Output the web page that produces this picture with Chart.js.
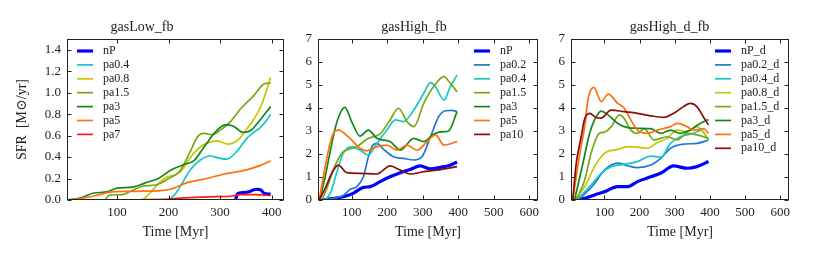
<!DOCTYPE html>
<html>
<head>
<meta charset="utf-8">
<script src="https://cdn.jsdelivr.net/npm/chart.js@4/dist/chart.umd.min.js"></script>
<style>
  body { margin: 0; background: #fff; }
  .wrap { position: relative; width: 831px; height: 260px; }
  canvas { position: absolute; top: 0; }
</style>
</head>
<body>
<div class="wrap">
  <canvas id="c1" width="300" height="260" style="left:0px"></canvas>
  <canvas id="c2" width="260" height="260" style="left:290px"></canvas>
  <canvas id="c3" width="281" height="260" style="left:550px"></canvas>
</div>
<script>
// tick values
const xTicksLow = [100, 200, 300, 400];
const xTicksHigh = [100, 200, 300, 400, 500, 600];
const yTicksLow = [0, 0.2, 0.4, 0.6, 0.8, 1.0, 1.2, 1.4];
const yTicksHigh = [0, 1, 2, 3, 4, 5, 6, 7];

// gasLow_fb  [time Myr, SFR]
const lowNP = [[330,0],[334,0.06],[345,0.07],[358,0.08],[365,0.095],[372,0.1],[380,0.09],[386,0.06],[398,0.055]];
const lowPa04 = [[200,0],[212,0.05],[222,0.12],[242,0.28],[261,0.37],[280,0.41],[298,0.39],[313,0.38],[332,0.45],[351,0.57],[365,0.63],[377,0.67],[390,0.74],[398,0.8]];
const lowPa08 = [[150,0],[165,0.07],[180,0.15],[195,0.21],[210,0.23],[225,0.27],[240,0.38],[258,0.48],[275,0.53],[295,0.55],[315,0.52],[335,0.56],[350,0.65],[365,0.75],[380,0.88],[398,1.14]];
const lowPa15 = [[77,0],[85,0.045],[110,0.05],[130,0.09],[150,0.13],[175,0.14],[200,0.2],[222,0.27],[240,0.43],[258,0.6],[270,0.62],[285,0.61],[300,0.65],[320,0.73],[340,0.85],[365,0.97],[385,1.08],[398,1.09]];
const lowPa3 = [[5,0],[30,0.02],[55,0.065],[80,0.075],[100,0.11],[130,0.12],[155,0.16],[180,0.2],[205,0.28],[230,0.33],[250,0.37],[270,0.5],[290,0.63],[310,0.7],[325,0.69],[345,0.63],[360,0.65],[380,0.76],[398,0.87]];
const lowPa5 = [[8,0],[30,0.015],[55,0.037],[87,0.074],[119,0.08],[150,0.082],[184,0.087],[203,0.1],[235,0.16],[274,0.2],[306,0.24],[351,0.28],[377,0.32],[398,0.365]];
const lowPa7 = [[5,0],[100,0],[150,0.003],[200,0.008],[230,0.02],[280,0.03],[320,0.035],[340,0.05],[370,0.05],[398,0.04]];

// gasHigh_fb
const highNP = [[20,0],[40,0.05],[76,0.14],[104,0.29],[133,0.55],[152,0.58],[180,0.8],[208,1.01],[237,1.19],[265,1.33],[293,1.48],[322,1.35],[350,1.42],[375,1.5],[397,1.65]];
const highPa02 = [[25,0],[50,0.08],[76,0.2],[95,0.46],[114,0.58],[133,1.01],[147,1.88],[158,2.35],[171,2.46],[190,2.2],[218,1.88],[246,1.81],[275,1.74],[298,1.88],[322,2.75],[345,3.62],[364,3.88],[382,3.9],[397,3.84]];
const highPa04 = [[25,0],[40,0.3],[57,1.16],[76,2.03],[100,2.32],[123,2.17],[147,1.96],[171,2.46],[199,3.04],[223,3.48],[246,3.41],[275,3.91],[303,4.64],[322,5.1],[336,4.93],[360,4.35],[378,4.93],[397,5.43]];
const highPa15 = [[15,0],[30,0.5],[48,1.3],[72,2.03],[86,2.17],[114,2.32],[147,2.68],[180,2.87],[208,3.48],[232,3.99],[256,3.41],[275,3.19],[303,4.2],[331,4.93],[360,5.36],[378,5.07],[397,4.71]];
const highPa3 = [[10,0],[25,1.0],[38,2.0],[57,3.33],[81,4.03],[100,3.4],[123,2.78],[147,3.04],[171,2.68],[208,2.54],[237,2.17],[275,2.68],[303,2.54],[331,2.87],[359,2.97],[373,3.0],[397,3.84]];
const highPa5 = [[8,0],[20,1.0],[35,2.2],[48,2.9],[62,3.04],[95,2.68],[123,2.25],[142,2.14],[171,2.32],[199,2.39],[227,2.17],[256,2.39],[284,2.17],[308,2.46],[336,2.83],[360,2.39],[397,2.54]];
const highPa10 = [[8,0],[25,0.5],[45,1.2],[62,1.52],[86,1.19],[123,1.16],[171,1.13],[208,1.48],[237,1.3],[265,1.13],[303,1.23],[340,1.3],[397,1.45]];

// gasHigh_d_fb
const dNP = [[15,0],[44,0.07],[72,0.22],[100,0.36],[138,0.58],[166,0.58],[194,0.8],[232,1.01],[260,1.16],[297,1.48],[335,1.38],[363,1.45],[396,1.67]];
const dPa02 = [[25,0],[50,0.35],[72,0.72],[100,1.3],[138,1.6],[166,1.49],[194,1.41],[232,1.52],[260,1.81],[288,2.25],[325,2.43],[363,2.46],[396,2.6]];
const dPa04 = [[20,0],[40,0.3],[62,0.65],[91,1.16],[119,1.45],[156,1.55],[194,1.67],[232,1.91],[260,1.86],[288,2.46],[316,2.75],[354,2.9],[375,3.04],[396,2.6]];
const dPa08 = [[15,0],[44,0.58],[72,1.45],[100,2.03],[138,2.2],[166,2.32],[194,2.3],[222,2.25],[250,2.49],[279,2.68],[307,3.04],[335,2.97],[363,3.19],[396,2.65]];
const dPa15 = [[20,0],[44,0.87],[62,2.03],[86,2.9],[100,2.95],[120,3.2],[142,3.7],[156,3.55],[175,3.04],[194,2.9],[213,3.1],[241,2.61],[279,2.75],[307,2.61],[335,2.9],[363,2.83],[396,2.68]];
const dPa3 = [[15,0],[39,1.6],[58,2.9],[72,3.48],[91,3.86],[110,3.7],[138,3.33],[166,3.15],[194,3.12],[232,3.1],[260,2.9],[288,3.04],[316,2.9],[344,3.04],[372,3.33],[396,3.5]];
const dPa5 = [[10,0],[30,2.03],[44,3.19],[53,4.35],[70,4.9],[91,4.28],[111,4.6],[138,4.2],[156,4.0],[175,3.48],[194,3.04],[222,2.9],[250,3.04],[288,3.19],[307,3.33],[335,3.19],[354,3.04],[382,3.1],[396,2.9]];
const dPa10 = [[10,0],[20,1.6],[34,2.75],[43,3.48],[58,3.77],[75,3.6],[90,3.56],[119,3.91],[156,3.84],[194,3.77],[232,3.66],[269,3.59],[297,3.77],[325,4.06],[344,4.2],[363,4.06],[382,3.6],[396,3.26]];

const C = {
  nP: "#0000ff", pa02: "#1f78d6", pa04: "#14c8c8", pa08: "#c6c600",
  pa15: "#77a814", pa3: "#15861a", pa5: "#ff6f0a", pa7: "#ff1a1a", pa10: "#8b0c0c"
};
const SERIF = "'Liberation Serif', 'DejaVu Serif', serif";
const INK = "#222";

function ds(label, pts, color, width) {
  return { label, data: pts.map(p => ({ x: p[0], y: p[1] })), borderColor: color, borderWidth: width || 1.7 };
}

// frame with inward ticks on all four sides
const framePlugin = {
  id: "frame",
  afterDraw(chart) {
    const { ctx, chartArea: a, scales } = chart;
    const L = Math.round(a.left) + 0.5, R = Math.round(a.right) - 0.5;
    const T = Math.round(a.top) + 0.5, B = Math.round(a.bottom) - 0.5;
    ctx.save();
    ctx.strokeStyle = INK;
    ctx.lineWidth = 1;
    ctx.strokeRect(L, T, R - L, B - T);
    ctx.beginPath();
    scales.x.ticks.forEach(t => {
      const px = Math.round(scales.x.getPixelForValue(t.value)) + 0.5;
      ctx.moveTo(px, B); ctx.lineTo(px, B - 4);
      ctx.moveTo(px, T); ctx.lineTo(px, T + 4);
    });
    scales.y.ticks.forEach(t => {
      const py = Math.round(scales.y.getPixelForValue(t.value)) + 0.5;
      ctx.moveTo(L, py); ctx.lineTo(L + 4, py);
      ctx.moveTo(R, py); ctx.lineTo(R - 4, py);
    });
    ctx.stroke();
    ctx.restore();
  }
};

// legend drawn inside the axes
const boxLegend = {
  id: "boxLegend",
  afterDatasetsDraw(chart, args, opts) {
    const { ctx, chartArea: a } = chart;
    const x0 = opts.fromRight ? a.right - opts.dx : a.left + opts.dx;
    ctx.save();
    ctx.font = "12px " + SERIF;
    ctx.textBaseline = "middle";
    chart.data.datasets.forEach((d, i) => {
      const y = a.top + 12 + i * 13.9;
      ctx.strokeStyle = d.borderColor;
      ctx.lineWidth = d.borderWidth;
      ctx.beginPath();
      ctx.moveTo(x0, y); ctx.lineTo(x0 + 16, y);
      ctx.stroke();
      ctx.fillStyle = INK;
      ctx.fillText(d.label, x0 + 26, y);
    });
    ctx.restore();
  }
};

function panel(id, title, datasets, cfg) {
  datasets.forEach((d, i) => {
    d.order = -i;
    d.pointRadius = 0;
    d.fill = false;
    d.cubicInterpolationMode = "monotone";
  });
  new Chart(document.getElementById(id), {
    type: "line",
    data: { datasets },
    options: {
      responsive: false,
      animation: false,
      layout: { padding: { left: 0, right: cfg.padRight, top: 0, bottom: 0 } },
      plugins: {
        legend: { display: false },
        tooltip: { enabled: false },
        title: {
          display: true, text: title, color: INK,
          font: { family: SERIF, size: 14, weight: "normal", lineHeight: 1.2 },
          padding: { top: 19, bottom: 3.2 }
        },
        boxLegend: { dx: cfg.legendDx, fromRight: cfg.legendRight }
      },
      scales: {
        x: {
          type: "linear", min: cfg.xMin, max: cfg.xMax,
          grid: { display: false, drawTicks: false }, border: { display: false },
          afterBuildTicks: s => { s.ticks = cfg.xTicks.map(v => ({ value: v })); },
          afterFit: s => { s.height = 60; },
          ticks: { color: INK, padding: 5, font: { family: SERIF, size: 13 }, maxRotation: 0 },
          title: { display: true, text: "Time [Myr]", color: INK, font: { family: SERIF, size: 14 }, padding: { top: 0, bottom: 19 } }
        },
        y: {
          min: 0, max: cfg.yMax,
          grid: { display: false, drawTicks: false }, border: { display: false },
          afterBuildTicks: s => { s.ticks = cfg.yTicks.map(v => ({ value: v })); },
          afterFit: s => { s.width = cfg.yWidth; },
          ticks: { color: INK, padding: 6, font: { family: SERIF, size: 13 }, callback: cfg.yFmt },
          title: { display: !!cfg.yTitle, text: cfg.yTitle, color: INK, font: { family: SERIF, size: 14 }, padding: { top: 14, bottom: 0 } }
        }
      }
    },
    plugins: [framePlugin, boxLegend]
  });
}

panel("c1", "gasLow_fb", [
  ds("nP", lowNP, C.nP, 3.2),
  ds("pa0.4", lowPa04, C.pa04),
  ds("pa0.8", lowPa08, C.pa08),
  ds("pa1.5", lowPa15, C.pa15),
  ds("pa3", lowPa3, C.pa3),
  ds("pa5", lowPa5, C.pa5),
  ds("pa7", lowPa7, C.pa7)
], { padRight: 16, yWidth: 67, xMin: 3, xMax: 424, yMax: 1.5, xTicks: xTicksLow, yTicks: yTicksLow,
     yFmt: v => v.toFixed(1), yTitle: "SFR  [M\u2299/yr]", legendDx: 10, legendRight: false });

panel("c2", "gasHigh_fb", [
  ds("nP", highNP, C.nP, 3.2),
  ds("pa0.2", highPa02, C.pa02),
  ds("pa0.4", highPa04, C.pa04),
  ds("pa1.5", highPa15, C.pa15),
  ds("pa3", highPa3, C.pa3),
  ds("pa5", highPa5, C.pa5),
  ds("pa10", highPa10, C.pa10)
], { padRight: 12, yWidth: 28, xMin: 5, xMax: 625, yMax: 7, xTicks: xTicksHigh, yTicks: yTicksHigh,
     yFmt: v => String(v), yTitle: "", legendDx: 64, legendRight: true });

panel("c3", "gasHigh_d_fb", [
  ds("nP_d", dNP, C.nP, 3.2),
  ds("pa0.2_d", dPa02, C.pa02),
  ds("pa0.4_d", dPa04, C.pa04),
  ds("pa0.8_d", dPa08, C.pa08),
  ds("pa1.5_d", dPa15, C.pa15),
  ds("pa3_d", dPa3, C.pa3),
  ds("pa5_d", dPa5, C.pa5),
  ds("pa10_d", dPa10, C.pa10)
], { padRight: 42, yWidth: 21, xMin: 5, xMax: 625, yMax: 7, xTicks: xTicksHigh, yTicks: yTicksHigh,
     yFmt: v => String(v), yTitle: "", legendDx: 74, legendRight: true });
</script>
</body>
</html>
